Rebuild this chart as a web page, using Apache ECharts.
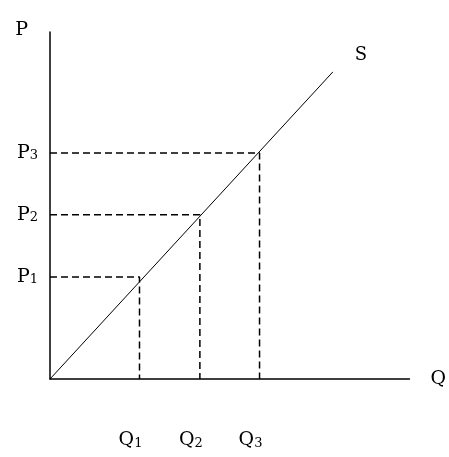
<!DOCTYPE html>
<html>
<head>
<meta charset="utf-8">
<script src="https://cdn.jsdelivr.net/npm/echarts@6/dist/echarts.min.js"></script>
<style>
	html, body { margin: 0; padding: 0; background: #fff; }
	#chart { width: 449px; height: 457px; }
</style>
</head>
<body>
<div id="chart"></div>
<script>
// values (arbitrary units, axis 0..100)
var qTicks = [24.9, 41.7, 58.3];
var pTicks = [29.4, 47.3, 65.1];
var qNames = ['1', '2', '3'];
var pNames = ['1', '2', '3'];
var supplyQ = [0, 78.7];
var supplyP = [0, 88.5];

function nearest(list, v) {
	var best = 0;
	for (var i = 0; i < list.length; i++) {
		if (Math.abs(list[i] - v) < Math.abs(list[best] - v)) best = i;
	}
	return best;
}

var serif = 'DejaVu Serif';
var rich = {
	m: { fontFamily: serif, fontSize: 19, color: '#000' },
	s: { fontFamily: serif, fontSize: 13, color: '#000', verticalAlign: 'bottom', padding: [3, 0, 0, 0] }
};

var series = [];
// supply curve
var supplyData = [];
for (var i = 0; i < supplyQ.length; i++) supplyData.push([supplyQ[i], supplyP[i]]);
series.push({
	name: 'S',
	type: 'line',
	data: supplyData,
	symbol: 'none',
	lineStyle: { color: '#000', width: 1 },
	endLabel: {
		show: true,
		formatter: 'S',
		fontFamily: serif,
		fontSize: 18,
		color: '#000',
		offset: [14, -17]
	}
});
// dashed guides
for (var k = 0; k < qTicks.length; k++) {
	series.push({
		type: 'line',
		data: [[0, pTicks[k]], [qTicks[k], pTicks[k]], [qTicks[k], 0]],
		symbol: 'none',
		lineStyle: { color: '#000', width: 1.5, type: [7, 4] }
	});
}

var chart = echarts.init(document.getElementById('chart'));
chart.setOption({
	animation: false,
	backgroundColor: '#fff',
	grid: { left: 50, top: 32, width: 362, height: 347 },
	xAxis: {
		type: 'value',
		min: 0,
		max: 100,
		name: 'Q',
		nameLocation: 'end',
		nameGap: 21,
		nameTextStyle: { fontFamily: serif, fontSize: 19, color: '#000', align: 'left', verticalAlign: 'middle', padding: [0, 0, 14, 0] },
		axisLine: { lineStyle: { color: '#000', width: 1.5 } },
		axisTick: { show: false },
		splitLine: { show: false },
		axisLabel: {
			customValues: qTicks,
			margin: 52,
			padding: [0, 18, 0, 0],
			formatter: function (v) { return '{m|Q}{s|' + qNames[nearest(qTicks, v)] + '}'; },
			rich: rich
		}
	},
	yAxis: {
		type: 'value',
		min: 0,
		max: 100,
		name: 'P',
		nameLocation: 'end',
		nameGap: 2,
		nameTextStyle: { fontFamily: serif, fontSize: 19, color: '#000', align: 'right', verticalAlign: 'middle', padding: [0, 22, 0, 0] },
		axisLine: { lineStyle: { color: '#000', width: 1.5 } },
		axisTick: { show: false },
		splitLine: { show: false },
		axisLabel: {
			customValues: pTicks,
			margin: 12,
			formatter: function (v) { return '{m|P}{s|' + pNames[nearest(pTicks, v)] + '}'; },
			rich: rich
		}
	},
	series: series
});
</script>
</body>
</html>
